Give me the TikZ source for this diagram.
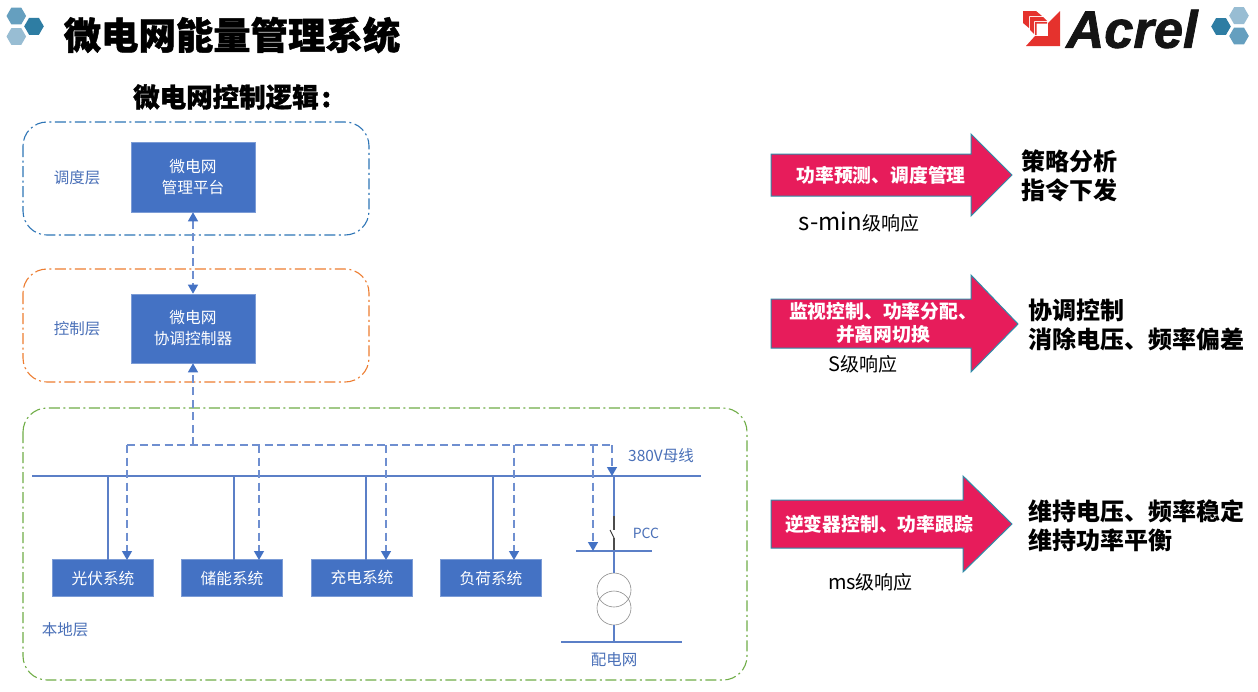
\documentclass[tikz,border=0pt]{standalone}
\usepackage{fontspec}
\setmainfont{Noto Sans CJK SC}
\newfontfamily\logofont[BoldItalicFeatures={FakeBold=1.5}]{Liberation Sans}
\newfontfamily\headfont[BoldFeatures={FakeBold=1.2}]{Noto Sans CJK SC}
\usetikzlibrary{arrows.meta}
\definecolor{boxblue}{HTML}{4472C4}
\definecolor{lineblue}{HTML}{5B7FC7}
\definecolor{dashblue}{HTML}{6F8FD0}
\definecolor{labelblue}{HTML}{4A70B8}
\definecolor{rosefill}{HTML}{E71C5B}
\definecolor{roseedge}{HTML}{2E8CA8}
\definecolor{hexdark}{HTML}{2E7DA3}
\definecolor{hexmid}{HTML}{659FBF}
\definecolor{hexlight}{HTML}{98BDD3}
\definecolor{frameblue}{HTML}{2E75B6}
\definecolor{frameorange}{HTML}{ED7D31}
\definecolor{framegreen}{HTML}{70AD47}
\definecolor{logored}{HTML}{E5322D}
\tikzset{
  x=1pt,y=-1pt,
  layerframe/.style={line width=1.1pt,rounded corners=24pt,dash pattern=on 11pt off 3.5pt on 2pt off 3.5pt},
  bluebox/.style={fill=boxblue,draw=boxblue!70!white,line width=.6pt,text=white,align=center,font=\fontsize{15.7}{21}\selectfont,inner sep=0pt},
  layerlabel/.style={text=labelblue,font=\fontsize{15.5}{18}\selectfont,inner sep=0pt},
  bus/.style={lineblue,line width=1.3pt},
  signal/.style={dashblue,line width=1.3pt,dash pattern=on 8pt off 4.5pt},
  sighead/.style={-{Triangle[length=9pt,width=10pt,fill=boxblue,color=boxblue]}},
  sigheads/.style={{Triangle[length=9pt,width=10pt,fill=boxblue,color=boxblue]}-{Triangle[length=9pt,width=10pt,fill=boxblue,color=boxblue]}},
  bigarrow/.style={fill=rosefill,draw=roseedge,line width=1pt},
  arrowtext/.style={text=white,align=center,font=\fontsize{18.8}{23}\selectfont\bfseries,inner sep=0pt},
  sidetext/.style={text=black,align=left,font=\fontsize{24}{29}\selectfont\bfseries,anchor=west,inner sep=0pt},
  resp/.style={text=black,font=\fontsize{19}{22}\selectfont,inner sep=0pt}
}
% hexagon with flat top and bottom, centre #1,#2 and radius #3
\newcommand{\hexcell}[4]{\fill[#4] (#1-#3,#2) -- (#1-#3/2,#2-#3*.866) -- (#1+#3/2,#2-#3*.866) -- (#1+#3,#2) -- (#1+#3/2,#2+#3*.866) -- (#1-#3/2,#2+#3*.866) -- cycle;}
\begin{document}
\begin{tikzpicture}
\useasboundingbox (0,0) rectangle (1258,691);
\fill[white] (0,0) rectangle (1258,691);

% header
\hexcell{16.3}{16}{9.8}{hexmid}
\hexcell{34}{26.3}{9.8}{hexdark}
\hexcell{16.3}{36.5}{9.8}{hexlight}
\node[inner sep=0pt,font=\headfont\fontsize{37.4}{40}\selectfont\bfseries] (title) at (232,35) {微电网能量管理系统};
\node[inner sep=0pt,anchor=west,font=\headfont\fontsize{26.5}{32}\selectfont\bfseries] (subtitle) at (133,97) {微电网控制逻辑\hspace{3pt}:};

% logo mark
\fill[logored] (1023,11) -- (1036,11) -- (1042,16) -- (1029,16) -- (1029,28) -- (1023,23) -- cycle;
\fill[logored] (1030,17) -- (1043,17) -- (1047,21) -- (1034,21) -- (1034,34) -- (1030,30) -- cycle;
\fill[logored] (1060,11) -- (1060,46) -- (1026,46) -- (1035,36) -- (1048,36) -- (1048,23) -- cycle;
\fill[logored] (1035,22) -- (1047,22) -- (1047,23.5) -- (1036.5,23.5) -- (1036.5,35) -- (1035,35) -- cycle;
\node[inner sep=0pt,text=black!92,font=\logofont\fontsize{52.5}{52}\selectfont\bfseries\itshape] (logo) at (1132,29) {Acrel};
\hexcell{1221}{26.5}{9.8}{hexdark}
\hexcell{1239}{15.7}{9.8}{hexlight}
\hexcell{1239}{36}{9.8}{hexmid}

% layer frames
\draw[layerframe,draw=frameblue] (23,122) rectangle (369,235);
\draw[layerframe,draw=frameorange] (23,269) rectangle (369,382);
\draw[layerframe,draw=framegreen] (23,408) rectangle (747,680);

\node[layerlabel] (ldispatch) at (77,177.5) {调度层};
\node[layerlabel] (lcontrol) at (77,328.5) {控制层};
\node[layerlabel] (llocal) at (65,629.5) {本地层};

% controllers
\node[bluebox,minimum width=124pt,minimum height=70pt] (platform) at (193,177) {微电网\\管理平台};
\node[bluebox,minimum width=124pt,minimum height=69pt] (coord) at (193,328.5) {微电网\\协调控制器};

% local systems
\node[bluebox,minimum width=101pt,minimum height=37pt] (pv) at (103,578) {光伏系统};
\node[bluebox,minimum width=101pt,minimum height=37pt] (ess) at (232,578) {储能系统};
\node[bluebox,minimum width=101pt,minimum height=37pt] (ev) at (362,578) {充电系统};
\node[bluebox,minimum width=101pt,minimum height=37pt] (load) at (491,578) {负荷系统};

% AC bus and feeders
\coordinate (busL) at (32,476);
\coordinate (busR) at (701,476);
\draw[bus] (busL) -- (busR);
\draw[bus] (108,476) -- (108,560);
\draw[bus] (234,476) -- (234,560);
\draw[bus] (366,476) -- (366,560);
\draw[bus] (493,476) -- (493,560);
\node[layerlabel] (busname) at (661,456) {380V母线};

% point of common coupling and transformer
\coordinate (pccTop) at (614,476);
\coordinate (swUp) at (614,516);
\coordinate (swHinge) at (614,530);
\coordinate (swLow) at (614,538);
\coordinate (pccBar) at (614,551);
\draw[bus] (pccTop) -- (swUp);
\draw[black!70,line width=1.2pt] (swUp) -- (swHinge);
\draw[black!80,line width=.9pt] (610,530) -- (swLow);
\draw[black!70,line width=1.2pt] (swLow) -- (pccBar);
\draw[bus] (576,551) -- (652,551);
\node[draw=black!45,line width=.6pt,circle,minimum size=34pt,inner sep=0pt] (coilA) at (614,590) {};
\node[draw=black!45,line width=.6pt,circle,minimum size=34pt,inner sep=0pt] (coilB) at (614,608) {};
\draw[bus] (pccBar) -- (coilA.north);
\coordinate (gridBar) at (614,642);
\draw[bus] (coilB.south) -- (gridBar);
\draw[bus] (561,642) -- (682,642);
\node[layerlabel,font=\fontsize{14}{18}\selectfont] (pcclabel) at (646,533) {PCC};
\node[layerlabel] (gridlabel) at (614,660) {配电网};

% signal bus
\coordinate (sigL) at (127,445);
\coordinate (sigR) at (612,445);
\coordinate (sigTap) at (193,445);
\draw[signal] (sigL) -- (sigR);
\draw[signal,sigheads] (platform.south) -- (coord.north);
\draw[signal,sighead] (sigTap) -- (coord.south);
\draw[signal,sighead] (sigL) -- (127,560);
\draw[signal,sighead] (259,445) -- (259,560);
\draw[signal,sighead] (386,445) -- (386,560);
\draw[signal,sighead] (514,445) -- (514,560);
\draw[signal,sighead] (593,445) -- (593,551);
\draw[signal,sighead] (sigR) -- (612,476);

% response bands
\draw[bigarrow] (771,154) -- (971,154) -- (971,134) -- (1012,175) -- (971,216) -- (971,196) -- (771,196) -- cycle;
\node[arrowtext] (a1) at (881,175) {功率预测、调度管理};
\node[sidetext] (s1) at (1021,175.5) {策略分析\\指令下发};
\node[resp] (r1) at (859,222) {{\fontsize{24}{22}\selectfont s-min}级响应};

\draw[bigarrow] (771,299) -- (971,299) -- (971,275) -- (1018,324) -- (971,372) -- (971,348) -- (771,348) -- cycle;
\node[arrowtext] (a2) at (883,323) {监视控制、功率分配、\\并离网切换};
\node[sidetext] (s2) at (1028,324.5) {协调控制\\消除电压、频率偏差};
\node[resp] (r2) at (863,364) {{\fontsize{20}{22}\selectfont S}级响应};

\draw[bigarrow] (771,500) -- (963,500) -- (963,476) -- (1012,524) -- (963,572) -- (963,548) -- (771,548) -- cycle;
\node[arrowtext] (a3) at (879,524) {逆变器控制、功率跟踪};
\node[sidetext] (s3) at (1028,525.5) {维持电压、频率稳定\\维持功率平衡};
\node[resp] (r3) at (870.5,582) {{\fontsize{20}{22}\selectfont ms}级响应};
\end{tikzpicture}
\end{document}
